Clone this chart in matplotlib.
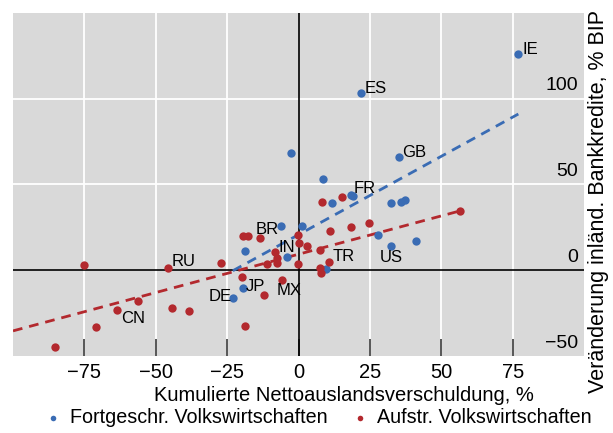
import matplotlib
matplotlib.use("Agg")
import matplotlib.pyplot as plt
import matplotlib.transforms as mtransforms
import numpy as np

plt.rcParams['font.family'] = ['Liberation Sans', 'DejaVu Sans']

# Fortgeschrittene Volkswirtschaften (x: kum. Nettoauslandsverschuldung, y: Veränderung Bankkredite)
adv_x = [77.0, 21.8, 35.3, -2.8, 8.7, 11.6, 18.3, 19.2, 32.3, 35.9, 37.3,
         27.7, 32.4, 41.0, -6.1, 1.3, -18.9, -4.0, -19.4, -23.0, 9.7]
adv_y = [126.3, 103.3, 66.1, 68.4, 52.9, 39.0, 44.0, 43.0, 39.3, 40.0, 40.7,
         20.3, 14.1, 17.3, 25.6, 25.6, 11.2, 7.8, -10.1, -16.1, 0.6]

# Aufstrebende Volkswirtschaften
em_x = [-85.4, -75.1, -70.8, -63.4, -56.1, -45.8, -44.3, -38.2, -27.2, -19.8,
        -19.4, -17.8, -18.6, -13.5, -12.0, -11.0, -8.1, -7.7, -7.5, -5.7,
        -0.3, 0.0, -0.3, 3.1, 7.7, 7.7, 8.0, 8.3, 10.9, 10.8, 15.4, 18.5, 24.6, 56.5]
em_y = [-44.6, 2.9, -33.0, -23.3, -18.0, 1.0, -22.3, -23.8, 4.1, -4.1,
        20.2, 20.2, -32.8, 18.9, -14.5, 3.5, 10.7, 7.0, 4.0, -5.8,
        20.3, 16.0, 3.5, 14.2, 11.6, 1.0, -1.5, 40.0, 22.9, 5.0, 42.5, 25.4, 27.3, 34.5]

# Trendlinien (Steigung, Achsenabschnitt)
adv_trend = [0.914, 20.7]
em_trend = [0.447, 9.3]

# Länderkürzel und Position der Beschriftung
labels = ["IE", "ES", "GB", "FR", "BR", "IN", "RU", "TR", "US", "JP", "MX", "DE", "CN"]
label_x = [78.4, 23.3, 36.4, 19.4, -15.1, -7.0, -44.4, 12.1, 28.6, -18.3, -7.7, -31.5, -62.3]
label_y = [128.9, 106.0, 68.8, 47.8, 23.8, 13.5, 4.8, 7.7, 7.2, -9.3, -12.0, -15.1, -28.1]

xticks = [-75, -50, -25, 0, 25, 50, 75]
yticks = [-50, 0, 50, 100]

blue = '#3a6cb4'
red = '#b3292e'

fig = plt.figure(figsize=(6.13, 4.33), dpi=100)
ax = fig.add_axes([0.0212, 0.178, 0.9315, 0.792])
ax.set_facecolor('#d9d9d9')
for s in ax.spines.values():
    s.set_visible(False)

ax.set_xlim(-100, 100)
ax.set_ylim(-50, 150)

for v in [-75, -50, -25, 25, 50, 75]:
    ax.axvline(v, color='white', lw=1.3, zorder=1)
for v in [50, 100]:
    ax.axhline(v, color='white', lw=1.3, zorder=1)
ax.axhline(0, color='black', lw=1.2, zorder=2)
ax.axvline(0, color='black', lw=1.2, zorder=2)

# trend lines
xa = np.array([min(adv_x), max(adv_x)])
ax.plot(xa, adv_trend[0] * xa + adv_trend[1], ls=(0, (3.5, 2.5)), color=blue, lw=2, zorder=3)
xe = np.array([-100, max(em_x)])
ax.plot(xe, em_trend[0] * xe + em_trend[1], ls=(0, (3.5, 2.5)), color=red, lw=2, zorder=3)

ax.scatter(adv_x, adv_y, s=36, color=blue, zorder=4, linewidths=0)
ax.scatter(em_x, em_y, s=36, color=red, zorder=4, linewidths=0)

for t, x, y in zip(labels, label_x, label_y):
    ax.text(x, y, t, fontsize=12, ha='left', va='center', zorder=5)

ax.set_xticks(xticks)
ax.set_xticklabels([f"{v}".replace('-', '\u2212') for v in xticks], fontsize=14.5)
ax.tick_params(axis='x', direction='in', length=12, width=1.2, color='#3a3a3a', pad=5)
ax.set_yticks([])

trans = mtransforms.blended_transform_factory(ax.transAxes, ax.transData)
for v in yticks:
    ax.text(0.99, v + 2.5, f"{v}".replace('-', '\u2212'), transform=trans,
            ha='right', va='bottom', fontsize=14)

ax.set_xlabel("Kumulierte Nettoauslandsverschuldung, %", fontsize=14.5, labelpad=3, x=0.58)
ax.yaxis.set_label_position('right')
ax.set_ylabel("Veränderung inländ. Bankkredite, % BIP", fontsize=15.5, labelpad=3, y=0.45)

h1 = ax.scatter([], [], s=16, color=blue, linewidths=0)
h2 = ax.scatter([], [], s=16, color=red, linewidths=0)
fig.legend([h1, h2], ["Fortgeschr. Volkswirtschaften", "Aufstr. Volkswirtschaften"],
           loc='center', bbox_to_anchor=(0.516, 0.035), ncol=2, frameon=False,
           fontsize=14.2, handletextpad=0.3, columnspacing=1.0, borderpad=0,
           handlelength=1.2)

fig.savefig("out.png", dpi=100)
